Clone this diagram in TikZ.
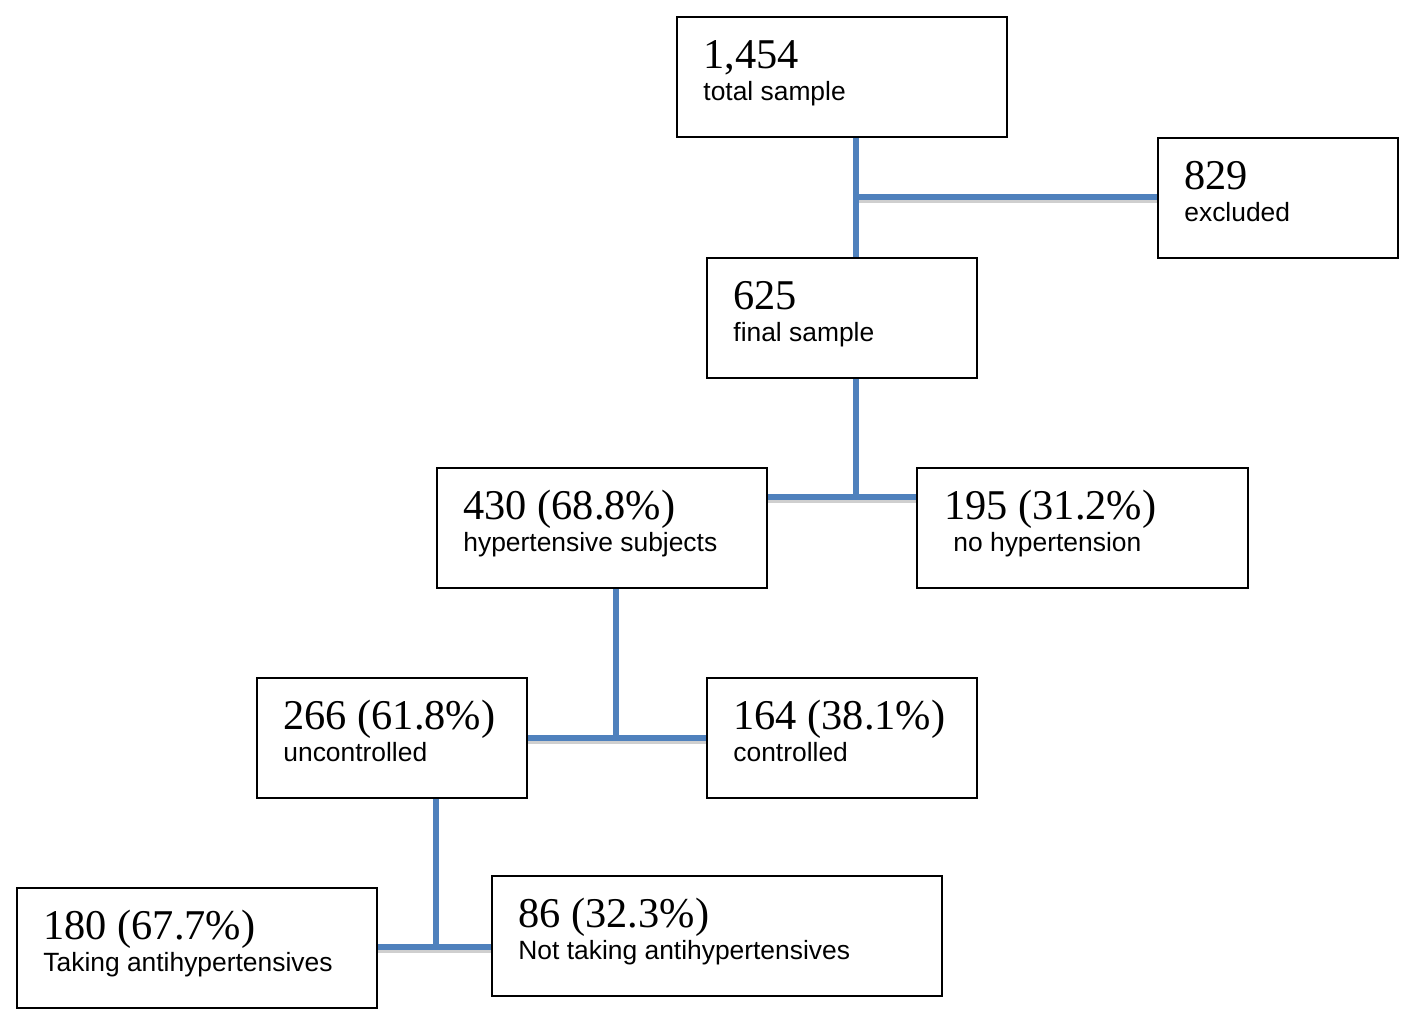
\documentclass[tikz,border=0pt]{standalone}
\usepackage{fontspec}
\setmainfont{Liberation Serif}
\newfontfamily\labelfont{Liberation Sans}
\definecolor{connblue}{HTML}{4F81BD}
\definecolor{shadowgray}{HTML}{CFCFCF}
\begin{document}
\begin{tikzpicture}[x=0.5pt,y=-0.5pt,
  box/.style={draw=black,line width=1pt,rectangle,anchor=north west,inner sep=0pt,minimum height=60pt},
  numtxt/.style={anchor=base west,inner sep=0pt,font=\fontsize{21.2}{24}\selectfont},
  subtxt/.style={anchor=base west,inner sep=0pt,font=\labelfont\fontsize{13.2}{15}\selectfont},
  conn/.style={draw=connblue,line width=2.6pt},
  connshadow/.style={draw=shadowgray,line width=2.4pt,transform canvas={yshift=-2pt}}]
\useasboundingbox (0,0) rectangle (1417,1024);
\fill[white] (0,0) rectangle (1417,1024);
% boxes
\node[box,minimum width=165pt] (A) at (676,16) {};
\node[numtxt] (An) at (703,68) {1,454};
\node[subtxt] (At) at (703,100) {total sample};

\node[box,minimum width=120pt] (B) at (1157,137) {};
\node[numtxt] (Bn) at (1184,189) {829};
\node[subtxt] (Bt) at (1184,221) {excluded};

\node[box,minimum width=135pt] (C) at (706,257) {};
\node[numtxt] (Cn) at (733,309) {625};
\node[subtxt] (Ct) at (733,341) {final sample};

\node[box,minimum width=165pt] (D) at (436,467) {};
\node[numtxt] (Dn) at (463,519) {430 (68.8\%)};
\node[subtxt] (Dt) at (463,551) {hypertensive subjects};

\node[box,minimum width=165.5pt] (E) at (916,467) {};
\node[numtxt] (En) at (944,519) {195 (31.2\%)};
\node[subtxt] (Et) at (953,551) {no hypertension};

\node[box,minimum width=135pt] (F) at (256,677) {};
\node[numtxt] (Fn) at (283,729) {266 (61.8\%)};
\node[subtxt] (Ft) at (283,761) {uncontrolled};

\node[box,minimum width=135pt] (G) at (706,677) {};
\node[numtxt] (Gn) at (733,729) {164 (38.1\%)};
\node[subtxt] (Gt) at (733,761) {controlled};

\node[box,minimum width=180pt] (H) at (16,887) {};
\node[numtxt] (Hn) at (43,939) {180 (67.7\%)};
\node[subtxt] (Ht) at (43,971) {Taking antihypertensives};

\node[box,minimum width=225pt] (I) at (491,875) {};
\node[numtxt] (In) at (518,927) {86 (32.3\%)};
\node[subtxt] (It) at (518,959) {Not taking antihypertensives};

% junctions
\coordinate (j1) at (856,197);
\coordinate (j2) at (856,497);
\coordinate (j3) at (616,738);
\coordinate (j4) at (436,947);

% shadows
\draw[connshadow] (j1) -- (B.west |- j1);
\draw[connshadow] (D.east |- j2) -- (E.west |- j2);
\draw[connshadow] (F.east |- j3) -- (G.west |- j3);
\draw[connshadow] (H.east |- j4) -- (I.west |- j4);

% connectors
\draw[conn] (j1 |- A.south) -- (j1 |- C.north);
\draw[conn] (j1) -- (B.west |- j1);
\draw[conn] (j2 |- C.south) -- (j2);
\draw[conn] (D.east |- j2) -- (E.west |- j2);
\draw[conn] (j3 |- D.south) -- (j3);
\draw[conn] (F.east |- j3) -- (G.west |- j3);
\draw[conn] (j4 |- F.south) -- (j4);
\draw[conn] (H.east |- j4) -- (I.west |- j4);
\end{tikzpicture}
\end{document}
